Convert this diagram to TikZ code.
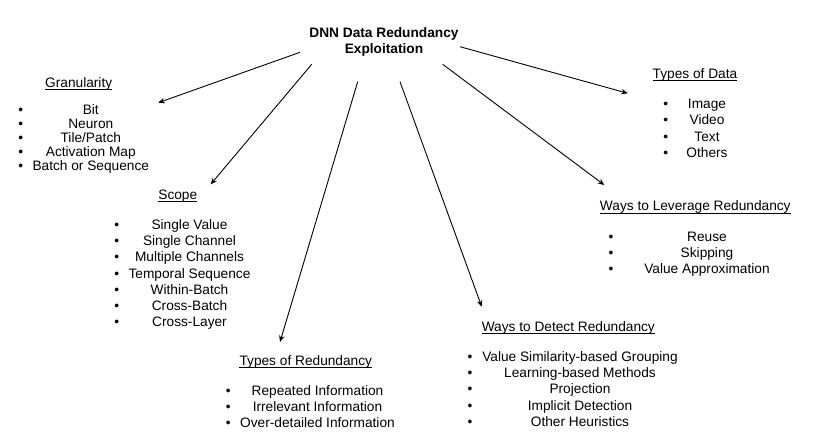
\documentclass[tikz,border=0pt]{standalone}
\usepackage{fontspec}
\setmainfont{Liberation Sans}
\usetikzlibrary{arrows.meta}
\newcommand{\heading}[4]{%
  \node[head] (#1) at (#2,#3) {#4};
  \draw[line width=0.8pt] ([yshift=-2pt]#1.base west) -- ([yshift=-2pt]#1.base east);}
\newcommand{\itemlist}[6]{%
  \foreach \t [count=\i from 0] in {#6} {
    \node[txt] (#1b\i) at (#2,#4+\i*#5) {\textbullet};
    \node[txt] (#1i\i) at (#3,#4+\i*#5) {\t};
  }}
\begin{document}
\begin{tikzpicture}[x=1pt,y=-1pt,
  txt/.style={inner sep=0pt,anchor=base,font=\fontsize{13.7}{16.2}\selectfont},
  head/.style={txt},
  ttl/.style={txt,font=\fontsize{13.7}{16.2}\selectfont\bfseries},
  conn/.style={line width=0.9pt,-{Stealth[length=6.5pt,width=5.5pt]}}]
\useasboundingbox (0,0) rectangle (830,446);
% title
\node[ttl] (t1) at (384,38) {DNN Data Redundancy};
\node[ttl] (t2) at (384,54) {Exploitation};
% headings (underlined)
\heading{hgran}{78.7}{87.5}{Granularity}
\heading{hscope}{177.8}{199.3}{Scope}
\heading{hred}{305.8}{365.5}{Types of Redundancy}
\heading{hdet}{568.3}{331}{Ways to Detect Redundancy}
\heading{hlev}{695.3}{211}{Ways to Leverage Redundancy}
\heading{hdata}{695}{78.3}{Types of Data}
% lists: bullet x, text centre x, first baseline, step
\itemlist{gran}{20.7}{90.8}{114.5}{14}{Bit,Neuron,Tile/Patch,Activation Map,Batch or Sequence}
\itemlist{scope}{116.7}{189.5}{229.5}{16.2}{Single Value,Single Channel,Multiple Channels,Temporal Sequence,Within-Batch,Cross-Batch,Cross-Layer}
\itemlist{red}{228.3}{317.5}{395.2}{16.2}{Repeated Information,Irrelevant Information,Over-detailed Information}
\itemlist{det}{470}{580}{361.5}{16.2}{Value Similarity-based Grouping,Learning-based Methods,Projection,Implicit Detection,Other Heuristics}
\itemlist{lev}{611}{707}{241.2}{16.2}{Reuse,Skipping,Value Approximation}
\itemlist{data}{665.7}{707}{108.8}{16.2}{Image,Video,Text,Others}
% connector end points
\coordinate (s1) at (300,52.3);   \coordinate (e1) at (158.3,102.7);
\coordinate (s2) at (311.7,64.3); \coordinate (e2) at (210.7,184.3);
\coordinate (s3) at (357.7,81.7); \coordinate (e3) at (280,342);
\coordinate (s4) at (400,81.7);   \coordinate (e4) at (481.7,306.7);
\coordinate (s5) at (442.7,64.3); \coordinate (e5) at (604.3,185);
\coordinate (s6) at (460,46.7);   \coordinate (e6) at (627.7,93.3);
\foreach \k in {1,...,6} \draw[conn] (s\k) -- (e\k);
\end{tikzpicture}
\end{document}
